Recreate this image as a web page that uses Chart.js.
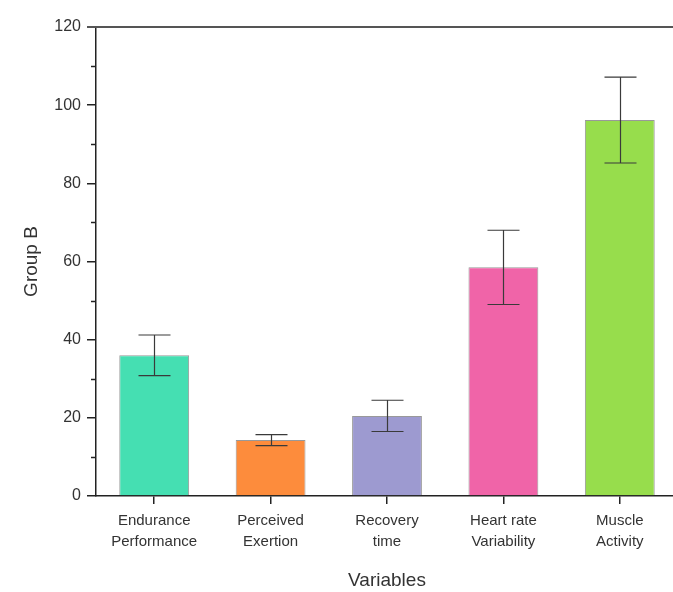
<!DOCTYPE html>
<html>
<head>
<meta charset="utf-8">
<script src="https://cdn.jsdelivr.net/npm/chart.js@4"></script>
<style>
html,body{margin:0;padding:0;background:#fff;overflow:hidden;}
#wrap{position:relative;width:678px;height:592px;}
</style>
</head>
<body>
<div id="wrap"><canvas id="c"></canvas></div>
<script>
const categories = [["Endurance","Performance"],["Perceived","Exertion"],["Recovery","time"],["Heart rate","Variability"],["Muscle","Activity"]];
const values = [36.0, 14.3, 20.5, 58.5, 96.2];
const errors = [5.2, 1.4, 4.0, 9.5, 11.0];
const barColors = ["#45dfb2", "#fd8c3c", "#9d9ad0", "#f064a8", "#97dd4c"];
const yTicks = [0, 20, 40, 60, 80, 100, 120];
const yMinorTicks = [10, 30, 50, 70, 90, 110];

const axisColor = "#222";
const textColor = "#333";
const fontFamily = "'Liberation Sans', Arial, sans-serif";

const framePlugin = {
  id: 'frame',
  afterDraw(chart) {
    const ctx = chart.ctx, a = chart.chartArea, y = chart.scales.y;
    ctx.save();
    ctx.strokeStyle = "#555";
    ctx.lineWidth = 2;
    ctx.beginPath();
    ctx.moveTo(a.left - 9, a.top);
    ctx.lineTo(chart.width, a.top);
    ctx.stroke();
    ctx.strokeStyle = axisColor;
    ctx.lineWidth = 1.5;
    yMinorTicks.forEach(v => {
      const py = Math.round(y.getPixelForValue(v)) + 0.5;
      ctx.beginPath();
      ctx.moveTo(a.left - 5, py);
      ctx.lineTo(a.left, py);
      ctx.stroke();
    });
    ctx.restore();
  }
};

const errorBarPlugin = {
  id: 'errorBars',
  afterDatasetsDraw(chart) {
    const ctx = chart.ctx, y = chart.scales.y;
    const meta = chart.getDatasetMeta(0);
    ctx.save();
    ctx.strokeStyle = "#3a3a3a";
    ctx.lineWidth = 1.2;
    meta.data.forEach((bar, i) => {
      const x = Math.round(bar.x) + 0.5;
      const top = y.getPixelForValue(values[i] + errors[i]);
      const bot = y.getPixelForValue(values[i] - errors[i]);
      const cap = 16;
      ctx.beginPath();
      ctx.moveTo(x, top); ctx.lineTo(x, bot);
      ctx.moveTo(x - cap, top); ctx.lineTo(x + cap, top);
      ctx.moveTo(x - cap, bot); ctx.lineTo(x + cap, bot);
      ctx.stroke();
    });
    ctx.restore();
  }
};

new Chart(document.getElementById('c'), {
  type: 'bar',
  data: {
    labels: categories,
    datasets: [{
      data: values,
      backgroundColor: barColors,
      borderColor: "rgba(70,70,70,0.55)",
      borderWidth: 1,
      barPercentage: 0.6,
      categoryPercentage: 1.0
    }]
  },
  options: {
    responsive: true,
    maintainAspectRatio: false,
    animation: false,
    devicePixelRatio: 1,
    layout: { padding: { top: 27, right: 0, bottom: 0, left: 0 } },
    plugins: { legend: { display: false }, tooltip: { enabled: false } },
    scales: {
      x: {
        offset: true,
        grid: { display: true, offset: false, drawOnChartArea: false, drawTicks: true, tickLength: 8, color: axisColor, lineWidth: 1.5 },
        border: { display: true, color: axisColor, width: 1.5 },
        ticks: { color: textColor, font: { family: fontFamily, size: 15, lineHeight: 1.35 }, padding: 7, maxRotation: 0, autoSkip: false },
        title: { display: true, text: 'Variables', color: textColor, font: { family: fontFamily, size: 19 }, padding: { top: 8, bottom: 0 } },
        afterFit(scale) { scale.height = 96; }
      },
      y: {
        min: 0, max: 120,
        afterBuildTicks(scale) { scale.ticks = yTicks.map(v => ({ value: v })); },
        grid: { display: true, drawOnChartArea: false, drawTicks: true, tickLength: 9, color: axisColor, lineWidth: 1.5 },
        border: { display: true, color: axisColor, width: 1.5 },
        ticks: { color: textColor, font: { family: fontFamily, size: 16 }, padding: 6 },
        title: { display: true, text: 'Group B', color: textColor, font: { family: fontFamily, size: 19 }, padding: { top: 20, bottom: 8 } },
        afterFit(scale) { scale.width = 96; }
      }
    }
  },
  plugins: [framePlugin, errorBarPlugin]
});
</script>
</body>
</html>
